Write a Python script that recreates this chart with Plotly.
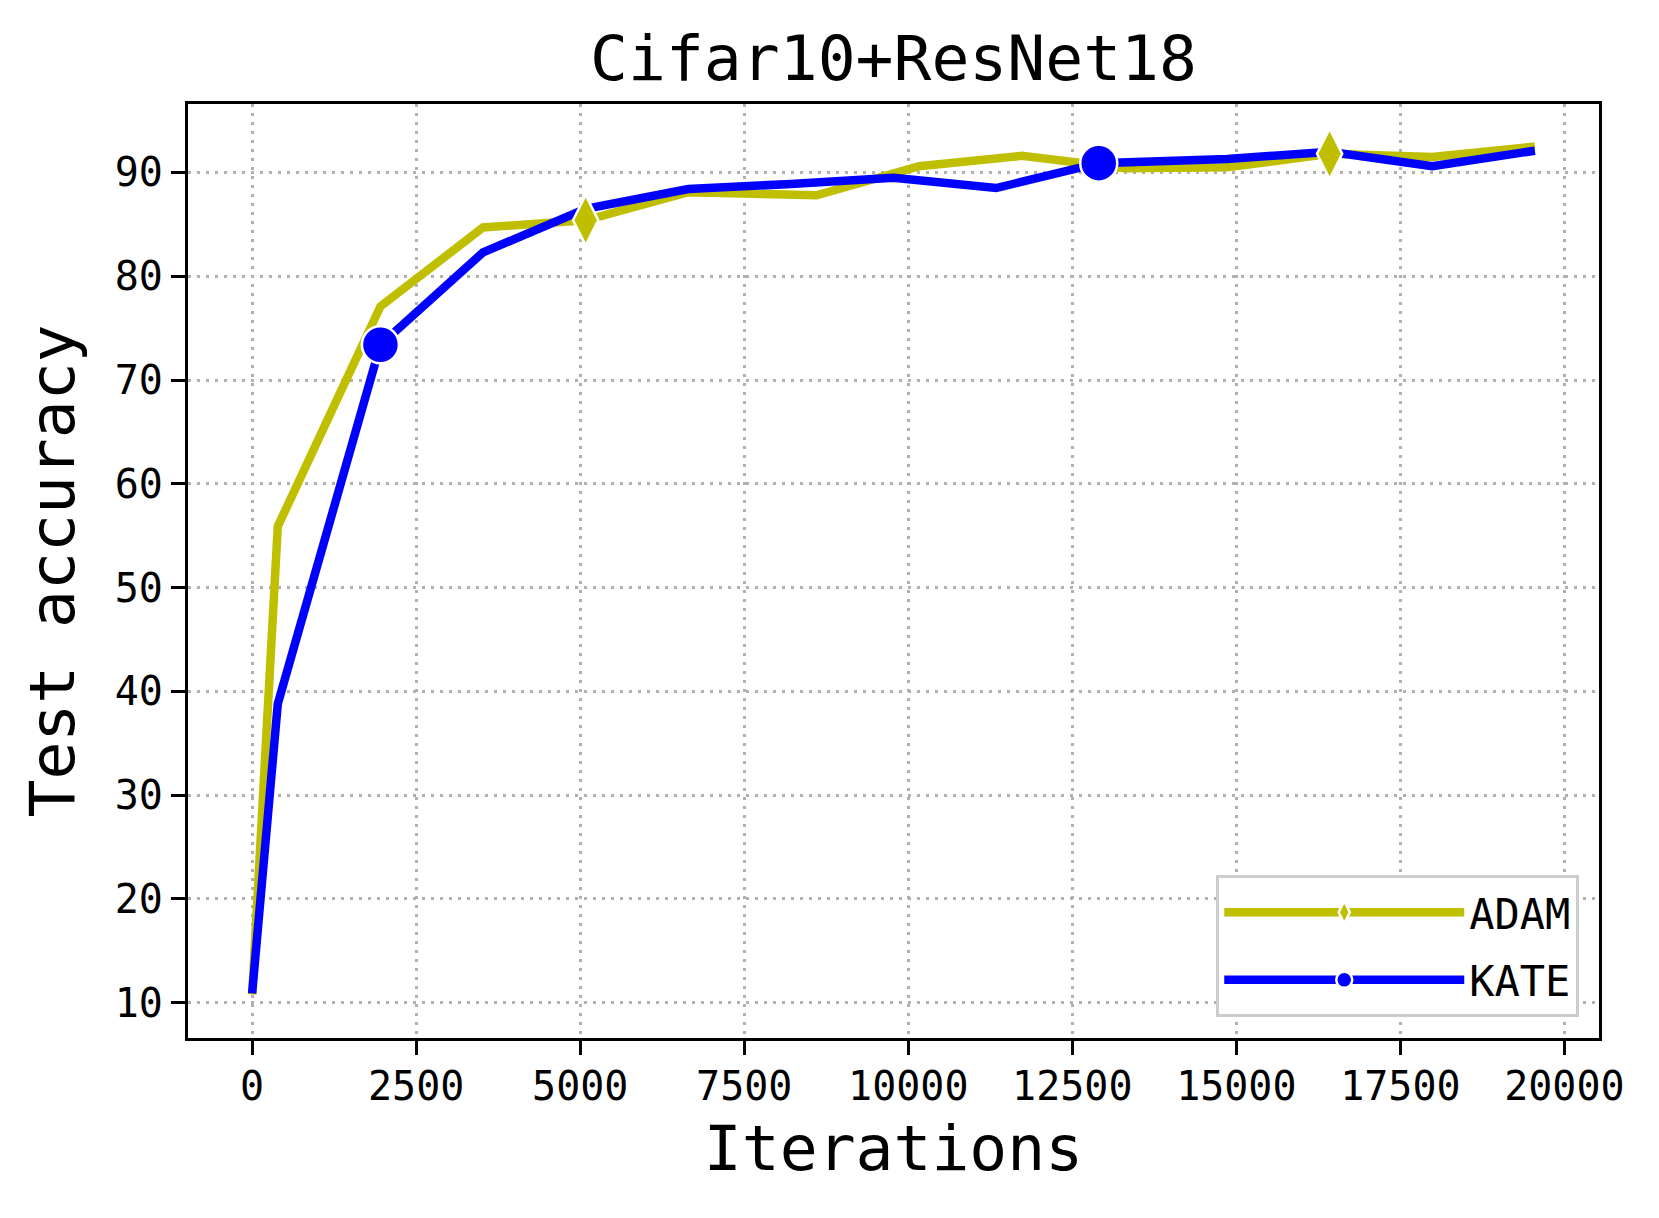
import plotly.graph_objects as go

ADAM_COLOR = "#bfbf00"
KATE_COLOR = "#0000ff"
FONT = "DejaVu Sans Mono"

# iterations / test accuracy
adam_x = [0, 391, 1955, 3519, 5083, 6647, 8602, 10166, 11730, 13294, 14858, 16422, 17986, 19550]
adam_y = [10.8, 55.9, 77.1, 84.7, 85.4, 88.1, 87.8, 90.6, 91.6, 90.4, 90.5, 91.8, 91.5, 92.5]
adam_marks = [4, 11]

kate_x = [0, 391, 1955, 3519, 5083, 6647, 8211, 9775, 11339, 12903, 14858, 16422, 17986, 19550]
kate_y = [10.9, 38.8, 73.4, 82.3, 86.5, 88.4, 88.9, 89.5, 88.5, 90.9, 91.3, 92.0, 90.6, 92.1]
kate_marks = [2, 9]

x_ticks = [0, 2500, 5000, 7500, 10000, 12500, 15000, 17500, 20000]
y_ticks = [10, 20, 30, 40, 50, 60, 70, 80, 90]

# page body has an 8px margin, so the figure is a bit smaller than the window
W, H = 1651, 1210


def marker_points(xs, ys, idx):
    # marker points separated by gaps so no extra segment is drawn
    mx, my = [], []
    for i in idx:
        if mx:
            mx.append(None)
            my.append(None)
        mx.append(xs[i])
        my.append(ys[i])
    return mx, my


fig = go.Figure()

fig.add_trace(
    go.Scatter(
        x=adam_x,
        y=adam_y,
        mode="lines",
        line=dict(color=ADAM_COLOR, width=8.5),
        legendgroup="adam",
        showlegend=False,
    )
)
fig.add_trace(
    go.Scatter(
        x=kate_x,
        y=kate_y,
        mode="lines",
        line=dict(color=KATE_COLOR, width=8.5),
        legendgroup="kate",
        showlegend=False,
    )
)

mx, my = marker_points(adam_x, adam_y, adam_marks)
fig.add_trace(
    go.Scatter(
        x=mx,
        y=my,
        mode="lines+markers",
        name="ADAM",
        legendgroup="adam",
        connectgaps=False,
        line=dict(color=ADAM_COLOR, width=8.5),
        marker=dict(symbol="diamond-tall", size=36, color=ADAM_COLOR,
                    line=dict(color="white", width=2.5)),
    )
)
mx, my = marker_points(kate_x, kate_y, kate_marks)
fig.add_trace(
    go.Scatter(
        x=mx,
        y=my,
        mode="lines+markers",
        name="KATE",
        legendgroup="kate",
        connectgaps=False,
        line=dict(color=KATE_COLOR, width=8.5),
        marker=dict(symbol="circle", size=37, color=KATE_COLOR,
                    line=dict(color="white", width=2.5)),
    )
)

axis_style = dict(
    showline=True,
    mirror=True,
    linecolor="black",
    linewidth=3.3,
    ticks="outside",
    ticklen=14,
    tickwidth=3.3,
    tickcolor="black",
    showgrid=True,
    gridcolor="#b0b0b0",
    gridwidth=2.5,
    griddash="3px,6px",
    zeroline=False,
    tickfont=dict(family=FONT, size=40, color="black"),
)

fig.update_layout(
    width=W,
    height=H,
    margin=dict(l=180, r=60, t=96, b=180),
    paper_bgcolor="white",
    plot_bgcolor="white",
    font=dict(family=FONT, color="black"),
    title=dict(
        text="Cifar10+ResNet18",
        x=0.5,
        xref="paper",
        xanchor="center",
        y=1 - 50 / H,
        yref="container",
        yanchor="middle",
        font=dict(family=FONT, size=63, color="black"),
    ),
    xaxis=dict(
        axis_style,
        range=[-977.5, 20527.5],
        tickvals=x_ticks,
        tickformat="d",
        ticklabelstandoff=-3,
        title=dict(text="Iterations", font=dict(family=FONT, size=63), standoff=18),
    ),
    yaxis=dict(
        axis_style,
        range=[6.6, 96.6],
        tickvals=y_ticks,
        title=dict(text="Test accuracy", font=dict(family=FONT, size=63), standoff=20),
    ),
    legend=dict(
        x=0.986,
        y=0.022,
        xanchor="right",
        yanchor="bottom",
        bgcolor="white",
        bordercolor="#cccccc",
        borderwidth=3,
        itemwidth=240,
        font=dict(family=FONT, size=42, color="black"),
    ),
)

fig.write_html("out.html")
